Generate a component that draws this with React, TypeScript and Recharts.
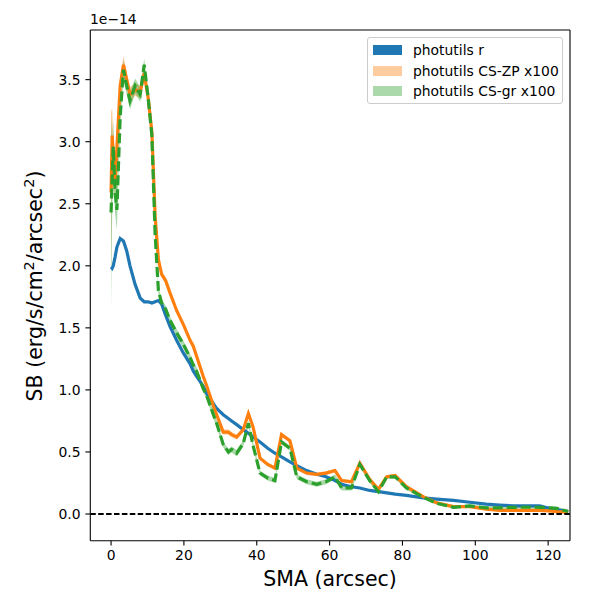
import React from "react";
import {
  ComposedChart,
  Area,
  Line,
  XAxis,
  YAxis,
  ReferenceLine,
} from "recharts";

document.body.style.margin = "0";

// semi-major axis (arcsec)
const sma = [
  0, 0.3, 0.6, 1.1, 1.6, 2.5, 3.4, 4.3, 5.2, 6.6, 8, 9.1, 10.2, 11.2, 12.1, 13,
  13.9, 15, 16.2, 18, 19.8, 21.7, 22.6, 23.5, 25.3, 26.3, 28.1, 29, 30.8, 32.2,
  33.1, 34.5, 36.3, 37.7, 39, 40.9, 43, 45, 46.8, 49.1, 51, 53.7, 56.5, 59,
  61.5, 63.3, 66, 68.3, 71, 73.4, 75.7, 78, 81.1, 85.7, 89.4, 94, 98.5, 103,
  106.7, 110.4, 114, 117.7, 120.5, 122.3, 125.5,
];

// surface brightness, units of 1e-14 erg/s/cm2/arcsec2
const sbR = [
  1.99, 1.98, 2.0, 2.07, 2.15, 2.22, 2.2, 2.12, 2.0, 1.85, 1.74, 1.71, 1.71,
  1.7, 1.71, 1.72, 1.69, 1.6, 1.51, 1.4, 1.3, 1.21, 1.15, 1.11, 1.03, 0.97,
  0.89, 0.85, 0.8, 0.77, 0.75, 0.72, 0.68, 0.65, 0.62, 0.58, 0.53, 0.49, 0.46,
  0.42, 0.39, 0.35, 0.32, 0.3, 0.27, 0.24, 0.22, 0.21, 0.19, 0.18, 0.17, 0.16,
  0.15, 0.13, 0.12, 0.11, 0.095, 0.08, 0.072, 0.066, 0.066, 0.066, 0.045,
  0.035, 0.02,
];

const sbZP = [
  2.59, 3.05, 2.9, 2.64, 2.95, 3.45, 3.62, 3.5, 3.38, 3.42, 3.4, 3.55, 3.35,
  3.08, 2.4, 2.05, 1.93, 1.88, 1.78, 1.64, 1.53, 1.4, 1.35, 1.27, 1.11, 1.03,
  0.87, 0.8, 0.66, 0.66, 0.64, 0.62, 0.68, 0.81, 0.7, 0.45, 0.4, 0.37, 0.64,
  0.59, 0.37, 0.33, 0.32, 0.33, 0.35, 0.27, 0.26, 0.41, 0.28, 0.2, 0.3, 0.31,
  0.22, 0.14, 0.09, 0.06, 0.06, 0.04, 0.03, 0.03, 0.03, 0.03, 0.025, 0.02,
  0.015,
];
const errZP = [
  0.65, 0.22, 0.15, 0.1, 0.08, 0.07, 0.07, 0.06, 0.06, 0.05, 0.05, 0.05, 0.04,
  0.03, 0.025, 0.025, 0.025, 0.025, 0.02, 0.02, 0.02, 0.02, 0.02, 0.02, 0.02,
  0.02, 0.02, 0.02, 0.02, 0.02, 0.02, 0.02, 0.02, 0.02, 0.02, 0.015, 0.015,
  0.015, 0.015, 0.015, 0.015, 0.015, 0.015, 0.015, 0.015, 0.015, 0.015, 0.015,
  0.015, 0.012, 0.012, 0.012, 0.012, 0.01, 0.01, 0.01, 0.01, 0.01, 0.01, 0.01,
  0.01, 0.01, 0.01, 0.01, 0.01,
];

const sbGR = [
  2.43, 2.7, 2.96, 2.6, 2.45, 3.2, 3.58, 3.45, 3.33, 3.45, 3.38, 3.62, 3.35,
  3.05, 2.25, 1.8, 1.7, 1.65, 1.56, 1.46, 1.37, 1.26, 1.2, 1.15, 1.01, 0.95,
  0.8, 0.73, 0.56, 0.5, 0.52, 0.49, 0.57, 0.73, 0.55, 0.33, 0.29, 0.27, 0.58,
  0.53, 0.3, 0.26, 0.24, 0.26, 0.3, 0.21, 0.21, 0.4, 0.27, 0.18, 0.3, 0.3,
  0.21, 0.135, 0.086, 0.054, 0.065, 0.05, 0.05, 0.054, 0.055, 0.054, 0.05,
  0.046, 0.02,
];
const errGR = [
  0.78, 0.3, 0.22, 0.18, 0.16, 0.09, 0.08, 0.07, 0.07, 0.06, 0.06, 0.05, 0.04,
  0.04, 0.03, 0.03, 0.03, 0.03, 0.03, 0.03, 0.03, 0.03, 0.03, 0.03, 0.03, 0.03,
  0.03, 0.03, 0.025, 0.025, 0.025, 0.025, 0.025, 0.025, 0.025, 0.02, 0.02,
  0.02, 0.02, 0.02, 0.02, 0.02, 0.02, 0.02, 0.02, 0.02, 0.02, 0.02, 0.02,
  0.015, 0.015, 0.015, 0.015, 0.012, 0.012, 0.012, 0.012, 0.012, 0.012, 0.012,
  0.012, 0.012, 0.012, 0.012, 0.012,
];

const xTicks = [0, 20, 40, 60, 80, 100, 120];
const yTicks = [0, 0.5, 1, 1.5, 2, 2.5, 3, 3.5];
const xDomain = [-5.7, 126];
const yDomain = [-0.215, 3.9];

const legendItems = [
  { label: "photutils r", color: "#1f77b4", opacity: 1 },
  { label: "photutils CS-ZP x100", color: "#ff7f0e", opacity: 0.4 },
  { label: "photutils CS-gr x100", color: "#2ca02c", opacity: 0.4 },
];

const rows = sma.map((x, i) => ({
  sma: x,
  r: sbR[i],
  zp: sbZP[i],
  zpBand: [sbZP[i] - errZP[i], sbZP[i] + errZP[i]],
  gr: sbGR[i],
  grBand: [sbGR[i] - errGR[i], sbGR[i] + errGR[i]],
}));

const FONT = "DejaVu Sans";
const tickStyle = { fontSize: 13.9, fill: "#000", fontFamily: FONT };
const spine = { stroke: "#000", strokeWidth: 1.1 };
const LW = 3.2;

function XTitle() {
  return (
    <text x={330} y={586} textAnchor="middle" fontSize={20.5} fontFamily={FONT} fill="#000">
      SMA (arcsec)
    </text>
  );
}

function YTitle() {
  return (
    <text
      x={0}
      y={0}
      transform="translate(42,286) rotate(-90)"
      textAnchor="middle"
      fontSize={20.5}
      fontFamily={FONT}
      fill="#000"
    >
      SB (erg/s/cm
      <tspan dy={-8.5} fontSize={14.5}>2</tspan>
      <tspan dy={8.5}>/arcsec</tspan>
      <tspan dy={-8.5} fontSize={14.5}>2</tspan>
      <tspan dy={8.5}>)</tspan>
    </text>
  );
}

function LegendBox() {
  return (
    <div
      style={{
        position: "absolute",
        left: 367,
        top: 37,
        width: 196,
        height: 67,
        boxSizing: "border-box",
        border: "1px solid #cccccc",
        borderRadius: 3,
        background: "rgba(255,255,255,0.8)",
        fontFamily: FONT,
        fontSize: 13.9,
      }}
    >
      {legendItems.map((it, i) => (
        <div
          key={it.label}
          style={{
            position: "absolute",
            left: 5,
            top: 4 + i * 20.7,
            height: 16,
            display: "flex",
            alignItems: "center",
            whiteSpace: "nowrap",
          }}
        >
          <span
            style={{
              display: "inline-block",
              width: 29,
              height: 10,
              background: it.color,
              opacity: it.opacity,
              marginRight: 11,
            }}
          />
          <span>{it.label}</span>
        </div>
      ))}
    </div>
  );
}

export default function App() {
  return (
    <div style={{ position: "relative", width: 600, height: 600, background: "#fff" }}>
      <ComposedChart
        width={600}
        height={600}
        data={rows}
        margin={{ top: 30, right: 30, bottom: 0, left: 0 }}
      >
        <XAxis
          dataKey="sma"
          type="number"
          domain={xDomain}
          ticks={xTicks}
          allowDataOverflow
          height={59.3}
          tick={tickStyle}
          tickSize={4.9}
          tickMargin={4.9}
          tickLine={spine}
          axisLine={spine}
          label={<XTitle />}
        />
        <YAxis
          type="number"
          domain={yDomain}
          ticks={yTicks}
          allowDataOverflow
          width={90.3}
          tick={tickStyle}
          tickSize={4.9}
          tickMargin={4.9}
          tickLine={spine}
          axisLine={spine}
          tickFormatter={(v: number) => v.toFixed(1)}
          label={<YTitle />}
        />
        <Line
          dataKey="r"
          type="linear"
          stroke="#1f77b4"
          strokeWidth={LW}
          dot={false}
          activeDot={false}
          isAnimationActive={false}
        />
        <Area
          dataKey="zpBand"
          type="linear"
          stroke="none"
          fill="#ff7f0e"
          fillOpacity={0.4}
          activeDot={false}
          isAnimationActive={false}
        />
        <Line
          dataKey="zp"
          type="linear"
          stroke="#ff7f0e"
          strokeWidth={LW}
          dot={false}
          activeDot={false}
          isAnimationActive={false}
        />
        <Area
          dataKey="grBand"
          type="linear"
          stroke="none"
          fill="#2ca02c"
          fillOpacity={0.4}
          activeDot={false}
          isAnimationActive={false}
        />
        <Line
          dataKey="gr"
          type="linear"
          stroke="#2ca02c"
          strokeWidth={LW}
          strokeDasharray="10 4"
          dot={false}
          activeDot={false}
          isAnimationActive={false}
        />
        <ReferenceLine y={0} stroke="#000" strokeWidth={1.8} strokeDasharray="5.5 2.4" />
        {/* top and right spines */}
        <ReferenceLine y={yDomain[1]} stroke="#000" strokeWidth={1.1} />
        <ReferenceLine x={xDomain[1]} stroke="#000" strokeWidth={1.1} />
      </ComposedChart>
      <div
        style={{
          position: "absolute",
          left: 90,
          top: 13,
          fontFamily: FONT,
          fontSize: 13.9,
          lineHeight: 1,
        }}
      >
        1e−14
      </div>
      <LegendBox />
    </div>
  );
}
